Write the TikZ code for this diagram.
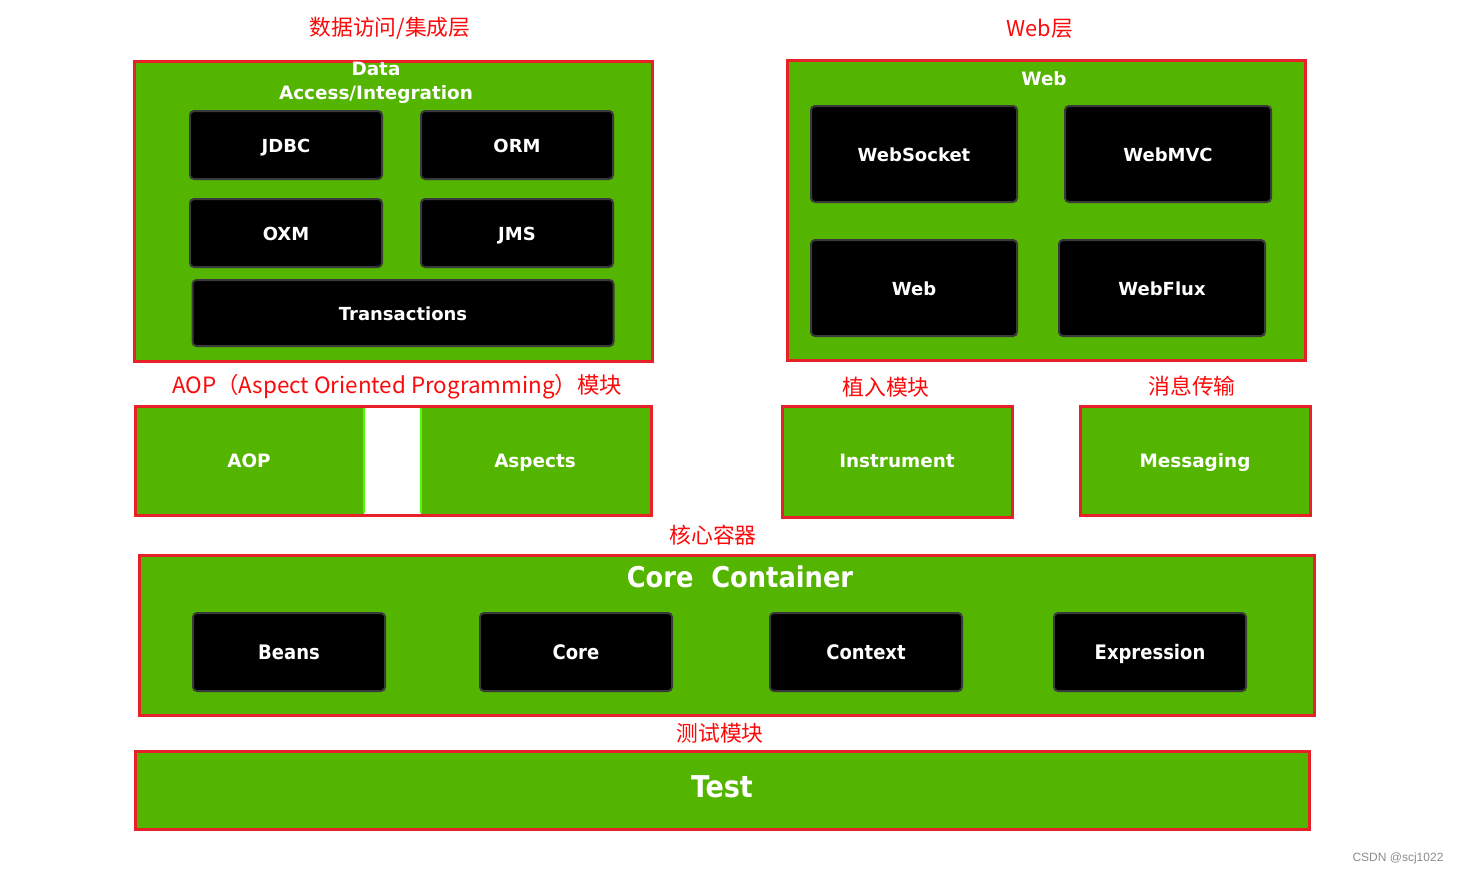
\documentclass[tikz,border=0pt]{standalone}
\usepackage{fontspec}
\setmainfont{DejaVu Sans}
\newfontfamily\cjkfont{Noto Sans CJK SC}
\newfontfamily\condfont{DejaVu Sans Condensed}
\newfontfamily\markfont{Liberation Sans}
\usepackage{tikz}
\definecolor{layergreen}{RGB}{83,181,0}
\definecolor{edgered}{RGB}{232,32,40}
\definecolor{tagred}{RGB}{250,10,10}
\definecolor{blkedge}{RGB}{58,58,58}
\tikzset{
	layer/.style={draw=edgered, line width=1.5pt, fill=layergreen},
	modbox/.style={draw=blkedge, line width=1pt, fill=black, rounded corners=2pt, text=white, text height=0.73em, text depth=0pt, font=\bfseries\fontsize{9}{11}\selectfont},
	corebox/.style={modbox, font=\condfont\bfseries\fontsize{10}{12}\selectfont},
	title/.style={text=white, font=\bfseries\fontsize{9.2}{12}\selectfont, align=center},
	label/.style={title, text height=0.73em, text depth=0pt},
	tag/.style={text=tagred, font=\cjkfont\fontsize{10.9}{12}\selectfont}
}
% {name}{x}{y}{width}{height}{text}, centre and size in pixels
\newcommand{\modbox}[6]
{
	\node [modbox, minimum width=#4*0.5pt, minimum height=#5*0.5pt] (#1) at (#2,#3) {#6};
}
\newcommand{\corebox}[6]
{
	\node [corebox, minimum width=#4*0.5pt, minimum height=#5*0.5pt] (#1) at (#2,#3) {#6};
}
\begin{document}
\begin{tikzpicture}[x=0.5pt, y=-0.5pt]

	\fill [white] (0,0) rectangle (1462,875);
	\useasboundingbox (0,0) rectangle (1462,875);

	% data access / integration
	\node [tag] (tagdata) at (390,28) {数据访问/集成层};
	\draw [layer] (134,61) rectangle (652,361);
	\node [title] (datatitle) at (376,83) {Data\\Access/Integration};
	\modbox{jdbc}{286}{145}{192}{68}{JDBC}
	\modbox{orm}{517}{145}{192}{68}{ORM}
	\modbox{oxm}{286}{233}{192}{68}{OXM}
	\modbox{jms}{517}{233}{192}{68}{JMS}
	\modbox{trans}{403}{313}{421}{66}{Transactions}

	% web
	\node [tag] (tagweb) at (1040,29) {Web层};
	\draw [layer] (787,60) rectangle (1305,360);
	\node [label] (webtitle) at (1044,78) {Web};
	\modbox{websocket}{914}{154}{206}{96}{WebSocket}
	\modbox{webmvc}{1168}{154}{206}{96}{WebMVC}
	\modbox{web}{914}{288}{206}{96}{Web}
	\modbox{webflux}{1162}{288}{206}{96}{WebFlux}

	% aop
	\node [tag, font=\cjkfont\fontsize{11.2}{12}\selectfont] (tagaop) at (397,387) {AOP（Aspect Oriented Programming）模块};
	\fill [layergreen] (135,406) rectangle (364,515);
	\fill [layergreen] (421,406) rectangle (651,515);
	\draw [green!60!lime, line width=1pt] (364,408) -- (364,513);
	\draw [green!60!lime, line width=1pt] (421,408) -- (421,513);
	\draw [edgered, line width=1.5pt] (135,406) rectangle (651,515);
	\node [label] (aop) at (249,460) {AOP};
	\node [label] (aspects) at (535,460) {Aspects};

	% instrument, messaging
	\node [tag] (taginst) at (886,387) {植入模块};
	\draw [layer] (782,406) rectangle (1012,517);
	\node [label] (inst) at (897,460) {Instrument};
	\node [tag] (tagmsg) at (1192,386) {消息传输};
	\draw [layer] (1080,406) rectangle (1310,515);
	\node [label] (msg) at (1195,460) {Messaging};

	% core container
	\node [tag] (tagcore) at (713,535) {核心容器};
	\draw [layer] (139,555) rectangle (1314,715);
	\node [label, font=\condfont\bfseries\fontsize{14.3}{18}\selectfont] (coretitle) at (740,580) {Core\ \ Container};
	\corebox{beans}{289}{652}{192}{78}{Beans}
	\corebox{core}{576}{652}{192}{78}{Core}
	\corebox{context}{866}{652}{192}{78}{Context}
	\corebox{expr}{1150}{652}{192}{78}{Expression}

	% test
	\node [tag] (tagtest) at (720,733) {测试模块};
	\draw [layer] (135,751) rectangle (1309,829);
	\node [label, font=\condfont\bfseries\fontsize{15}{18}\selectfont] (test) at (722,790) {Test};

	\node [text=black!45, font=\markfont\fontsize{6}{7}\selectfont] (mark) at (1398,858) {CSDN @scj1022};

\end{tikzpicture}
\end{document}
